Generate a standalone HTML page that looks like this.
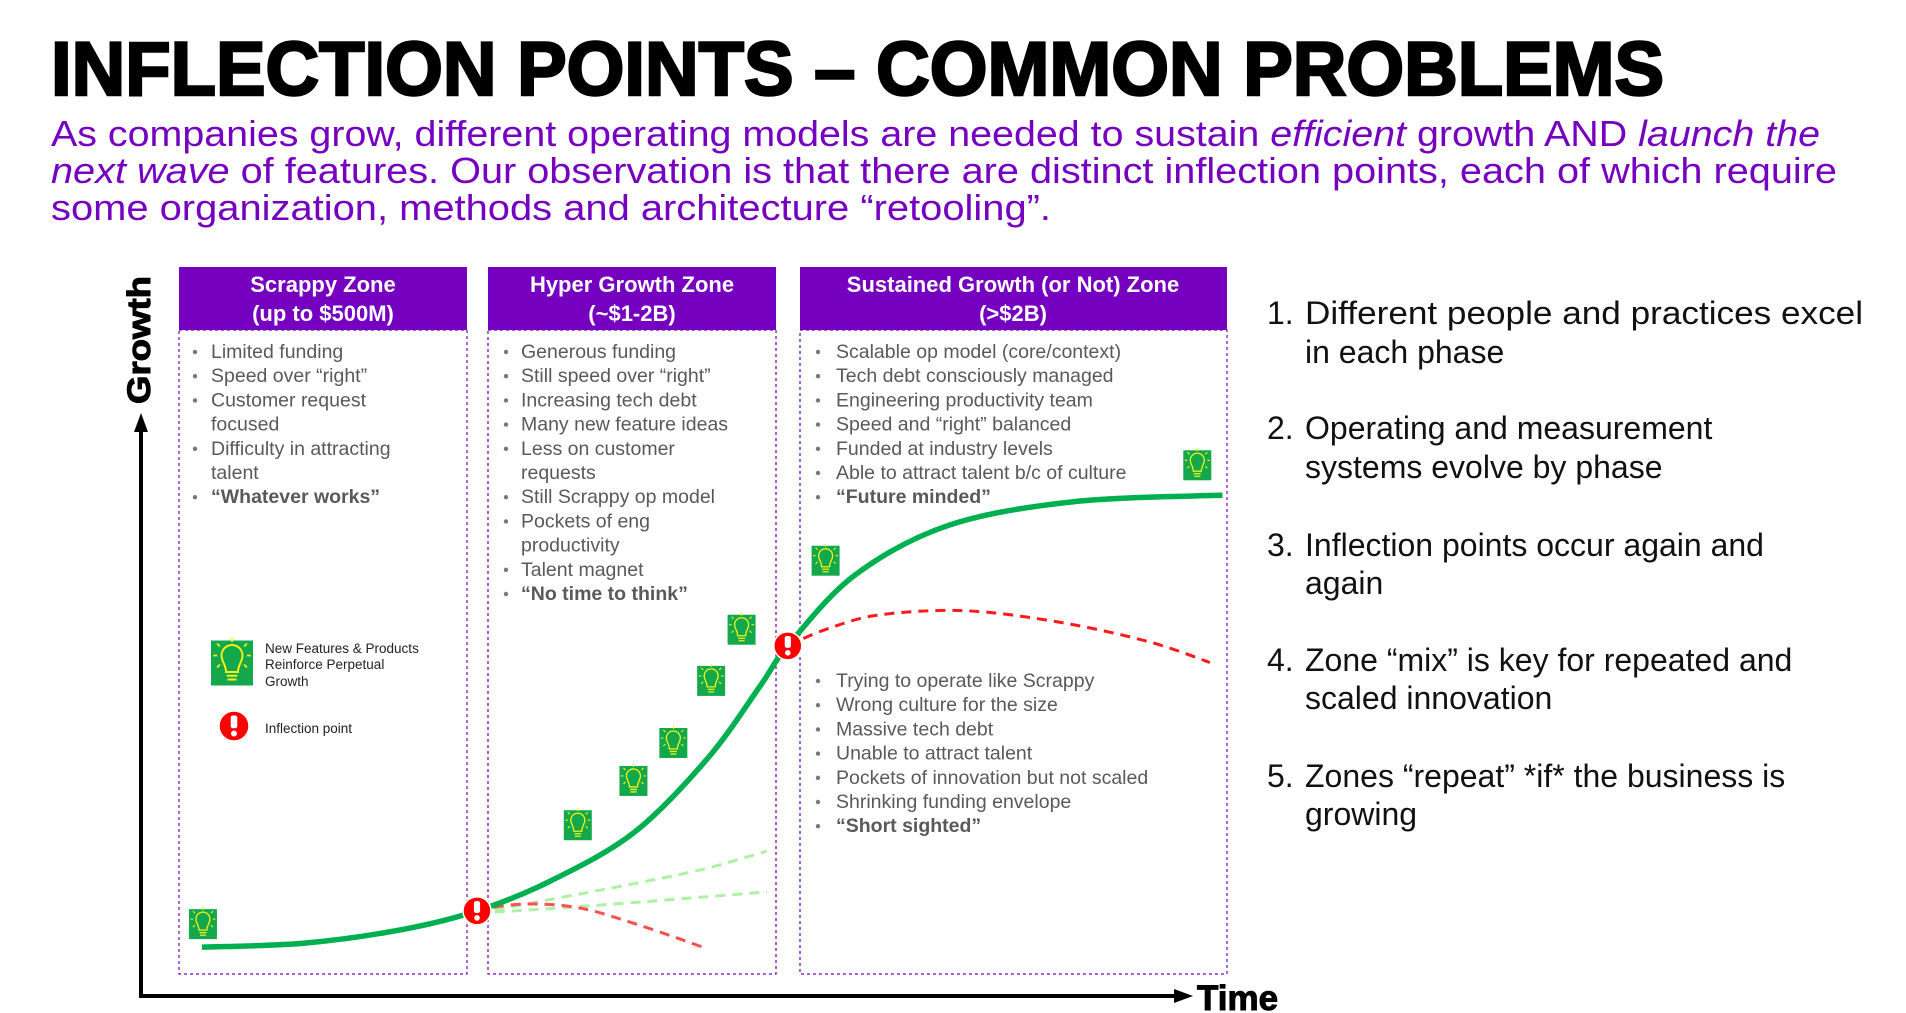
<!DOCTYPE html>
<html><head><meta charset="utf-8"><style>
html,body{margin:0;padding:0;background:#fff;}
svg{display:block;font-family:"Liberation Sans",sans-serif;}
</style></head><body>
<svg id="chart" width="1906" height="1013" viewBox="0 0 1906 1013">
<text x="51" y="95" font-size="76" font-weight="bold" fill="#000" stroke="#000" stroke-width="2.5" textLength="1613" lengthAdjust="spacingAndGlyphs">INFLECTION POINTS – COMMON PROBLEMS</text>
<g fill="#7500C0" font-size="36">
<text x="51" y="146" textLength="1769" lengthAdjust="spacingAndGlyphs">As companies grow, different operating models are needed to sustain <tspan font-style="italic">efficient</tspan> growth AND <tspan font-style="italic">launch the</tspan></text>
<text x="51" y="183" textLength="1786" lengthAdjust="spacingAndGlyphs"><tspan font-style="italic">next wave</tspan> of features.  Our observation is that there are distinct inflection points, each of which require</text>
<text x="51" y="220" textLength="1000" lengthAdjust="spacingAndGlyphs">some organization, methods and architecture “retooling”.</text>
</g>

<g>
<rect x="179" y="267" width="288" height="63" fill="#7500C0"/>
<rect x="179" y="330" width="288" height="644" fill="none" stroke="#7500C0" stroke-width="1.2" stroke-dasharray="3,3"/>
<text x="323" y="292" font-size="22" font-weight="bold" fill="#fff" text-anchor="middle">Scrappy Zone</text>
<text x="323" y="321" font-size="22" font-weight="bold" fill="#fff" text-anchor="middle">(up to $500M)</text>
</g>
<g>
<rect x="488" y="267" width="288" height="63" fill="#7500C0"/>
<rect x="488" y="330" width="288" height="644" fill="none" stroke="#7500C0" stroke-width="1.2" stroke-dasharray="3,3"/>
<text x="632" y="292" font-size="22" font-weight="bold" fill="#fff" text-anchor="middle">Hyper Growth Zone</text>
<text x="632" y="321" font-size="22" font-weight="bold" fill="#fff" text-anchor="middle">(~$1-2B)</text>
</g>
<g>
<rect x="800" y="267" width="427" height="63" fill="#7500C0"/>
<rect x="800" y="330" width="427" height="644" fill="none" stroke="#7500C0" stroke-width="1.2" stroke-dasharray="3,3"/>
<text x="1013" y="292" font-size="22" font-weight="bold" fill="#fff" text-anchor="middle">Sustained Growth (or Not) Zone</text>
<text x="1013" y="321" font-size="22" font-weight="bold" fill="#fff" text-anchor="middle">(&gt;$2B)</text>
</g>
<g id="bullets" font-size="19.5" fill="#595959"></g>

<g>
<line x1="141" y1="998" x2="141" y2="428" stroke="#000" stroke-width="4"/>
<polygon points="141,413 134,432 148,432" fill="#000"/>
<line x1="139" y1="996" x2="1178" y2="996" stroke="#000" stroke-width="4"/>
<polygon points="1193,996 1174,989 1174,1003" fill="#000"/>
<text x="1197" y="1010" font-size="35" font-weight="bold" stroke="#000" stroke-width="1">Time</text>
<text transform="translate(150,340) rotate(-90)" font-size="32" font-weight="bold" stroke="#000" stroke-width="1" text-anchor="middle" textLength="128" lengthAdjust="spacingAndGlyphs">Growth</text>
</g>
<g id="marks"></g>

<g>
<g id="legendBulb"></g>
<text x="265" y="653" font-size="13.5" fill="#222">New Features &amp; Products</text>
<text x="265" y="669" font-size="13.5" fill="#222">Reinforce Perpetual</text>
<text x="265" y="686" font-size="13.5" fill="#222">Growth</text>
<g id="legendInf"></g>
<text x="265" y="733" font-size="13.5" fill="#222">Inflection point</text>
</g>

<g font-size="32" fill="#111">
<text x="1267" y="324">1.</text><text x="1305" y="324" textLength="558" lengthAdjust="spacingAndGlyphs">Different people and practices excel</text><text x="1305" y="363">in each phase</text>
<text x="1267" y="439">2.</text><text x="1305" y="439">Operating and measurement</text><text x="1305" y="478">systems evolve by phase</text>
<text x="1267" y="556">3.</text><text x="1305" y="556">Inflection points occur again and</text><text x="1305" y="594">again</text>
<text x="1267" y="671">4.</text><text x="1305" y="671">Zone “mix” is key for repeated and</text><text x="1305" y="709">scaled innovation</text>
<text x="1267" y="787">5.</text><text x="1305" y="787">Zones “repeat” *if* the business is</text><text x="1305" y="825">growing</text>
</g>
</svg>
<script>
const mainT=[5.8,15.6,25,32,39,47,54,59,61.6,68,77,89,103];
const mainG=[8.5,9.2,11.6,14.8,20,28.5,41.4,54,60.9,73.2,81.9,86,87.1];
const redRightT=[61.6,65.6,70.4,78.5,87.5,96,101.8];
const redRightG=[61,64,66.3,67,65,61.6,58];
const redLeftT=[32,36.6,41.8,47.5,53.5];
const redLeftG=[15,16,15.3,12.3,8.5];
const altUpperT=[33.7,43.7,53.2,59.6];
const altUpperG=[15,18.4,21.9,25.2];
const altLowerT=[33.7,43.7,59.6];
const altLowerG=[14.6,15.8,18.1];
const bulbT=[5.9,41.6,46.9,50.7,54.3,57.2,65.2,100.6];
const bulbG=[12.5,29.7,37.4,44,54.8,63.7,75.7,92.3];
const inflT=[32,61.6];
const inflG=[14.8,60.9];
const scrappyItems=[["Limited funding"],["Speed over “right”"],["Customer request","focused"],["Difficulty in attracting","talent"],["“Whatever works”",1]];
const hyperItems=[["Generous funding"],["Still speed over “right”"],["Increasing tech debt"],["Many new feature ideas"],["Less on customer","requests"],["Still Scrappy op model"],["Pockets of eng","productivity"],["Talent magnet"],["“No time to think”",1]];
const sustainedItems=[["Scalable op model (core/context)"],["Tech debt consciously managed"],["Engineering productivity team"],["Speed and “right” balanced"],["Funded at industry levels"],["Able to attract talent b/c of culture"],["“Future minded”",1]];
const notItems=[["Trying to operate like Scrappy"],["Wrong culture for the size"],["Massive tech debt"],["Unable to attract talent"],["Pockets of innovation but not scaled"],["Shrinking funding envelope"],["“Short sighted”",1]];

const NS="http://www.w3.org/2000/svg";
const xs=t=>141+t*10.5;
const ys=g=>996-g*5.75;
function el(tag,attrs,parent){const e=document.createElementNS(NS,tag);for(const k in attrs)e.setAttribute(k,attrs[k]);parent.appendChild(e);return e;}
function pathD(T,G){const p=T.map((t,i)=>[xs(t),ys(G[i])]);let d="M"+p[0][0]+","+p[0][1];
for(let i=0;i<p.length-1;i++){const p0=p[i-1]||p[i],p1=p[i],p2=p[i+1],p3=p[i+2]||p2;
d+=" C"+(p1[0]+(p2[0]-p0[0])/6)+","+(p1[1]+(p2[1]-p0[1])/6)+" "+(p2[0]-(p3[0]-p1[0])/6)+","+(p2[1]-(p3[1]-p1[1])/6)+" "+p2[0]+","+p2[1];}return d;}
const marks=document.getElementById('marks');
function line(T,G,color,w,dash,name){const e=el('path',{d:pathD(T,G),fill:'none',stroke:color,'stroke-width':w},marks);if(dash)e.setAttribute('stroke-dasharray',dash);

}
line(altUpperT,altUpperG,'#aef0a4',3,'10,7','alt-growth-upper');
line(altLowerT,altLowerG,'#aef0a4',3,'10,7','alt-growth-lower');
line(redLeftT,redLeftG,'#ff5050',3,'10,7','stall-path-early');
line(redRightT,redRightG,'#ff1a1a',3,'10,7','stall-path-late');
line(mainT,mainG,'#00B050',5.5,null,'growth-curve');
function bulb(cx,cy,s,parent){const g=el('g',{transform:`translate(${cx},${cy}) scale(${s})`},parent);
el('rect',{x:-14,y:-15,width:28,height:30,fill:'#13A84B'},g);
el('path',{d:'M-4,6 C-4,1 -7,-1 -7,-5 A7,7 0 1 1 7,-5 C7,-1 4,1 4,6 Z',fill:'none',stroke:'#F4F01A','stroke-width':1.3},g);
el('path',{d:'M-3.5,8.5 H3.5 M-3,11 H3',stroke:'#F4F01A','stroke-width':1.3},g);
el('path',{d:'M0,-14 V-17 M-8,-11 L-10,-13 M8,-11 L10,-13 M-10,-5 H-12.5 M10,-5 H12.5 M-8,1 L-10,3 M8,1 L10,3',stroke:'#F4F01A','stroke-width':1.1},g);
return g;}
function infl(cx,cy,r,parent){const g=el('g',{},parent);
el('circle',{cx:cx,cy:cy,r:r,fill:'#FF0000',stroke:'#fff','stroke-width':1.5},g);
el('rect',{x:cx-r*0.22,y:cy-r*0.7,width:r*0.44,height:r*0.85,rx:r*0.15,fill:'#fff'},g);
el('circle',{cx:cx,cy:cy+r*0.5,r:r*0.2,fill:'#fff'},g);return g;}
bulbT.forEach((t,i)=>{const b=bulb(xs(t),ys(bulbG[i]),1,marks);

});
inflT.forEach((t,i)=>{const b=infl(xs(t),ys(inflG[i]),14,marks);

});
const lb=bulb(232,663,1.5,document.getElementById('legendBulb'));


const li=infl(234,726,15,document.getElementById('legendInf'));


const bg=document.getElementById('bullets');
function list(items,bx,tx,y0,name){const g=el('g',{},bg);


let y=y0;items.forEach(it=>{const bold=it[it.length-1]===1;const lines=it.filter(s=>s!==1);
el('circle',{cx:bx,cy:y-6,r:2.2,fill:'#777'},g);
lines.forEach(s=>{const t=el('text',{x:tx,y:y},g);t.textContent=s;if(bold){t.setAttribute('font-weight','bold');}y+=24.2;});});}
list(scrappyItems,195,211,358,'scrappy-bullets');
list(hyperItems,506,521,358,'hyper-growth-bullets');
list(sustainedItems,818,836,358,'sustained-growth-bullets');
list(notItems,818,836,687,'not-sustained-bullets');
</script>
</body></html>
